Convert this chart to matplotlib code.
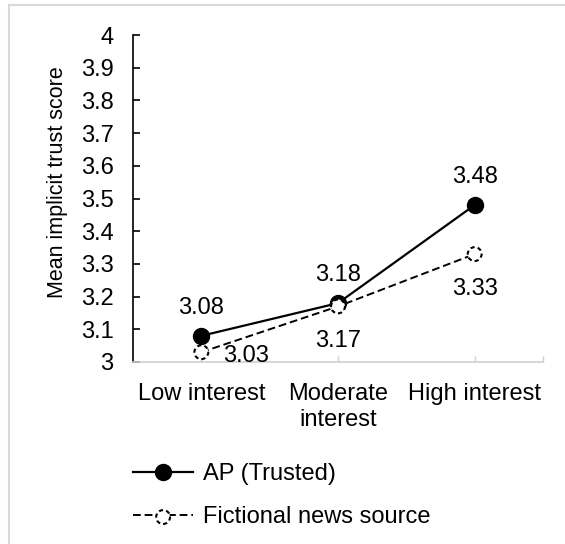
import matplotlib
matplotlib.use("Agg")
import matplotlib.pyplot as plt
from matplotlib.patches import Rectangle
from matplotlib.legend_handler import HandlerTuple

plt.rcParams['font.family'] = ['Liberation Sans', 'DejaVu Sans']

categories = ["Low interest", "Moderate\ninterest", "High interest"]
ap_trusted = [3.08, 3.18, 3.48]
fictional = [3.03, 3.17, 3.33]
y_ticks = [3, 3.1, 3.2, 3.3, 3.4, 3.5, 3.6, 3.7, 3.8, 3.9, 4]
y_tick_labels = ["3", "3.1", "3.2", "3.3", "3.4", "3.5", "3.6", "3.7", "3.8", "3.9", "4"]

W, H = 565, 544
fig = plt.figure(figsize=(W / 100, H / 100), dpi=100)
ax = fig.add_axes([133 / W, (H - 362) / H, 410 / W, 327 / H])

x = list(range(len(categories)))
ap_line, = ax.plot(x, ap_trusted, color='black', lw=1.6, marker='o', ms=11.5, mfc='black', mec='black', zorder=3)
fic_line, = ax.plot(x, fictional, color='black', lw=1.4, ls=(0, (4, 2)), zorder=2)
fic_pts = ax.scatter(x, fictional, s=100, facecolor='white', edgecolor='black', linewidths=1.5,
                     linestyle=(0, (2, 1.5)), zorder=4)

# value labels
fs = 17
up, down = 20, -25
ax.annotate(f"{ap_trusted[0]:.2f}", (0, ap_trusted[0]), xytext=(0, up), textcoords='offset points', ha='center', va='center', fontsize=fs)
ax.annotate(f"{fictional[0]:.2f}", (0, fictional[0]), xytext=(16, -3), textcoords='offset points', ha='left', va='center', fontsize=fs)
ax.annotate(f"{ap_trusted[1]:.2f}", (1, ap_trusted[1]), xytext=(0, up), textcoords='offset points', ha='center', va='center', fontsize=fs)
ax.annotate(f"{fictional[1]:.2f}", (1, fictional[1]), xytext=(0, down), textcoords='offset points', ha='center', va='center', fontsize=fs)
ax.annotate(f"{ap_trusted[2]:.2f}", (2, ap_trusted[2]), xytext=(0, up), textcoords='offset points', ha='center', va='center', fontsize=fs)
ax.annotate(f"{fictional[2]:.2f}", (2, fictional[2]), xytext=(0, down), textcoords='offset points', ha='center', va='center', fontsize=fs)

ax.set_xlim(-0.5, 2.5)
ax.set_ylim(3, 4)
ax.set_yticks(y_ticks)
ax.set_yticklabels(y_tick_labels)
ax.set_xticks(x)
ax.set_xticklabels(categories, linespacing=1.25)
ax.set_xticks([2.5], minor=True)

for s in ['top', 'right']:
    ax.spines[s].set_visible(False)
ax.spines['left'].set_color('black')
ax.spines['left'].set_linewidth(1.2)
ax.spines['bottom'].set_color('#d0d0d0')
ax.spines['bottom'].set_linewidth(1.2)

ax.tick_params(axis='y', direction='in', length=5, width=1.2, color='black', labelsize=fs, pad=14)
ax.tick_params(axis='x', which='both', direction='in', length=4, width=1, color='#d0d0d0', labelsize=fs, pad=15)

ax.set_ylabel("Mean implicit trust score", fontsize=15.5)
ax.yaxis.set_label_coords((68 - 133) / 410, 0.55)

leg = fig.legend([ap_line, (fic_line, fic_pts)], ["AP (Trusted)", "Fictional news source"],
                 handler_map={tuple: HandlerTuple(ndivide=1)}, scatterpoints=1,
                 loc='upper left', bbox_to_anchor=(133 / W, 1 - 463 / H), borderpad=0, borderaxespad=0,
                 frameon=False, fontsize=fs, handlelength=2.55, handletextpad=0.42, labelspacing=0.9)

# chart frame
fig.patches.append(Rectangle((9 / W, -0.05), 1.2, 1 - 5 / H + 0.05, transform=fig.transFigure,
                             fill=False, edgecolor='#d9d9d9', linewidth=1.5))

fig.savefig("out.png", dpi=100)
